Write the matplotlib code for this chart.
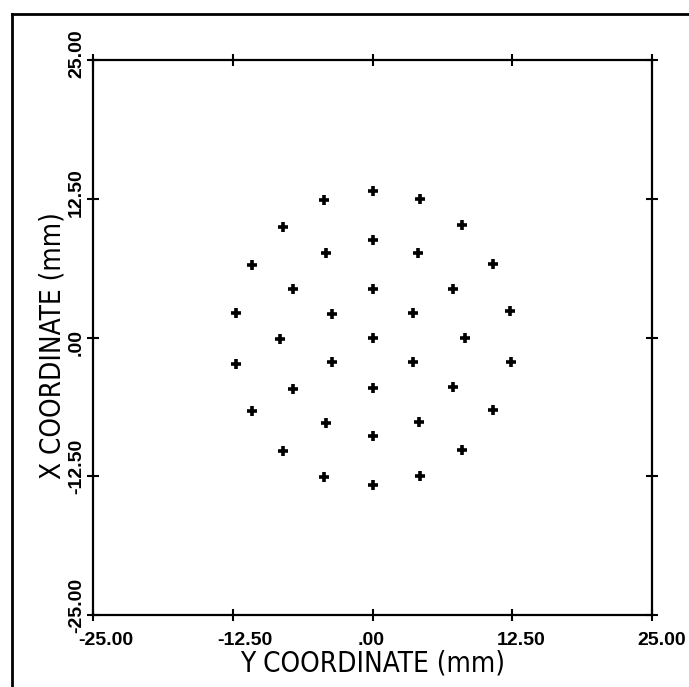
import matplotlib
matplotlib.use("Agg")
import matplotlib.pyplot as plt
from matplotlib import font_manager
from matplotlib.transforms import ScaledTranslation, blended_transform_factory
from matplotlib.lines import Line2D

# ---- data ----
y_coord = [0.0, -4.3, 4.25, -8.0, 8.05, 0.0, -4.15, 4.1, -10.8, 10.8,
           -7.1, 0.0, 7.2, -12.2, -3.6, 3.6, 12.3, -8.3, 0.0, 8.3,
           -12.2, -3.6, 3.65, 12.4, -7.1, 0.0, 7.2, -10.8, 10.8,
           -4.15, 4.2, 0.0, -8.0, 8.05, -4.3, 4.25, 0.0]
x_coord = [13.2, 12.4, 12.45, 10.0, 10.15, 8.8, 7.6, 7.65, 6.5, 6.6,
           4.4, 4.4, 4.4, 2.2, 2.15, 2.2, 2.35, -0.1, -0.05, 0.0,
           -2.4, -2.25, -2.2, -2.25, -4.6, -4.55, -4.5, -6.6, -6.5,
           -7.7, -7.65, -8.9, -10.2, -10.1, -12.55, -12.5, -13.3]
tick_values = [-25.0, -12.5, 0.0, 12.5, 25.0]
tick_labels = ["-25.00", "-12.50", ".00", "12.50", "25.00"]
xlabel_text = "Y COORDINATE (mm)"
ylabel_text = "X COORDINATE (mm)"


def pick(fam, fallback="DejaVu Sans"):
    try:
        font_manager.findfont(font_manager.FontProperties(family=fam),
                              fallback_to_default=False)
        return fam
    except Exception:
        return fallback


tick_font = pick("Liberation Sans")

# look for a condensed / narrow sans for the axis titles
label_props = None
for ent in font_manager.fontManager.ttflist:
    if ("Narrow" in ent.name or str(ent.stretch) in ("condensed", "semi-condensed")) \
            and ent.style == "normal" and ent.weight in (400, "normal", "regular"):
        label_props = font_manager.FontProperties(fname=ent.fname, size=20)
        break
if label_props is None:
    label_props = font_manager.FontProperties(family=tick_font, size=19)

fig = plt.figure(figsize=(6.89, 6.87), dpi=100)
ax = fig.add_axes([93 / 689, 1 - 615 / 687, 559 / 689, 555 / 687])

ax.plot(y_coord, x_coord, linestyle="none", marker="+", markersize=7,
        markeredgewidth=2.6, color="black")

ax.set_xlim(-25, 25)
ax.set_ylim(-25, 25)
ax.set_xticks(tick_values)
ax.set_yticks(tick_values)
ax.set_xticklabels([])
ax.set_yticklabels([])
ax.tick_params(direction="inout", length=8.6, width=1.5, color="black",
               top=True, right=True, bottom=True, left=True)
for sp in ax.spines.values():
    sp.set_linewidth(1.6)

# tick labels
tx = blended_transform_factory(ax.transData, ax.transAxes)
ty = blended_transform_factory(ax.transAxes, ax.transData)
for v, lab in zip(tick_values, tick_labels):
    ax.text(v, 0, lab, transform=tx + ScaledTranslation(-15 / 100, -17 / 100, fig.dpi_scale_trans),
            ha="left", va="top", fontsize=14, fontweight="bold", family=tick_font)
    ax.text(0, v, lab, transform=ty + ScaledTranslation(-8 / 100, -18 / 100, fig.dpi_scale_trans),
            ha="right", va="bottom", rotation=90, fontsize=14, fontweight="bold",
            family=tick_font)

ax.text(0.5, -0.088, xlabel_text, transform=ax.transAxes, ha="center", va="center",
        fontproperties=label_props)
ax.text(-0.073, 0.485, ylabel_text, transform=ax.transAxes, ha="center", va="center",
        rotation=90, fontproperties=label_props)

# outer frame (left and top edges)
fig.add_artist(Line2D([12 / 689, 12 / 689], [0, 1 - 14 / 687], transform=fig.transFigure,
                      color="black", linewidth=2))
fig.add_artist(Line2D([12 / 689, 1], [1 - 14 / 687, 1 - 14 / 687], transform=fig.transFigure,
                      color="black", linewidth=2))

fig.savefig("out.png", dpi=100)
